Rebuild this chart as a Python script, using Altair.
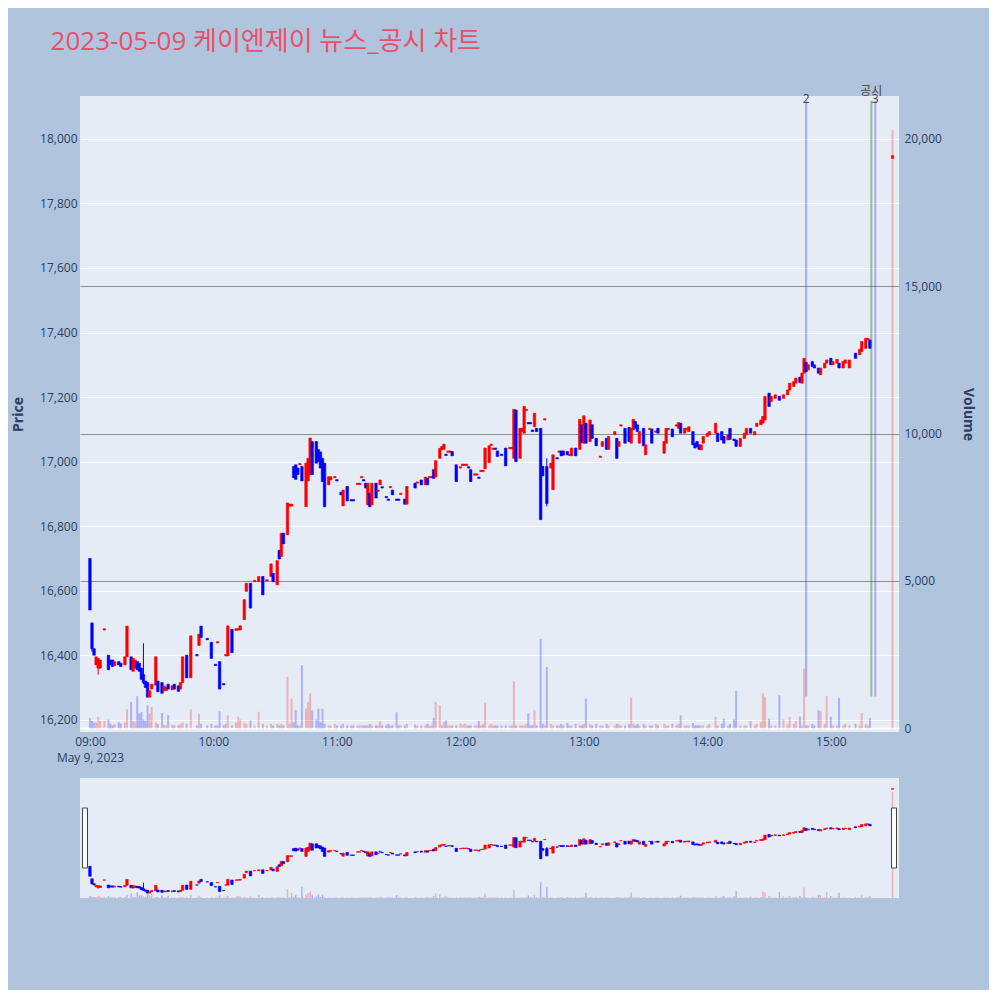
import altair as alt
import pandas as pd

TITLE = "2023-05-09 케이엔제이 뉴스_공시 차트"

# candle minutes after 09:00
minutes = [
    0, 1, 2, 3, 4, 5, 7, 9, 10, 11,
    12, 14, 15, 17, 18, 20, 21, 22, 23, 24,
    25, 26, 27, 28, 29, 30, 32, 33, 35, 36,
    37, 38, 40, 41, 43, 44, 45, 47, 49, 52,
    53, 54, 57, 59, 61, 62, 63, 65, 66, 67,
    69, 71, 72, 73, 75, 76, 78, 80, 82, 84,
    86, 88, 89, 91, 92, 93, 94, 96, 97, 98,
    99, 100, 101, 102, 103, 105, 106, 107, 108, 110,
    111, 112, 113, 114, 116, 117, 119, 120, 122, 123,
    125, 127, 128, 130, 131, 132, 133, 134, 135, 136,
    137, 139, 140, 141, 142, 144, 145, 146, 147, 149,
    150, 151, 153, 154, 158, 159, 161, 163, 164, 165,
    166, 167, 168, 170, 171, 172, 173, 174, 175, 176,
    178, 180, 181, 182, 183, 184, 185, 187, 188, 189,
    190, 191, 192, 194, 195, 196, 197, 198, 200, 202,
    204, 205, 206, 207, 209, 210, 211, 212, 213, 214,
    215, 216, 217, 219, 220, 221, 222, 224, 225, 227,
    228, 229, 230, 232, 233, 234, 236, 238, 239, 240,
    241, 243, 244, 246, 248, 249, 251, 252, 255, 256,
    257, 258, 260, 262, 263, 264, 265, 266, 267, 269,
    270, 272, 273, 275, 276, 279, 280, 281, 283, 285,
    286, 287, 289, 290, 291, 293, 294, 295, 296, 297,
    298, 300, 301, 304, 305, 307, 308, 310, 311, 313,
    314, 316, 318, 319, 321, 323, 324, 326, 327, 328,
    330, 331, 333, 335, 337, 339, 340, 342, 343, 345,
    346, 347, 348, 349, 351, 352, 354, 355, 357, 358,
    360, 361, 363, 364, 366, 367, 369, 372, 374, 375,
    377, 378, 379, 390,
]
opens = [
    16700, 16500, 16420, 16370, 16360, 16360, 16478, 16400, 16385, 16385,
    16368, 16380, 16375, 16370, 16395, 16395, 16350, 16360, 16380, 16375,
    16360, 16340, 16320, 16315, 16270, 16295, 16307, 16320, 16315, 16290,
    16290, 16310, 16293, 16310, 16305, 16295, 16315, 16400, 16330, 16402,
    16430, 16490, 16452, 16440, 16372, 16438, 16380, 16312, 16398, 16398,
    16480, 16477, 16478, 16478, 16510, 16598, 16623, 16628, 16628, 16644,
    16630, 16644, 16654, 16618, 16725, 16706, 16778, 16773, 16862, 16862,
    16985, 16990, 16980, 16990, 16985, 16860, 16940, 16960, 17062, 17062,
    17037, 17030, 17010, 16995, 16928, 16943, 16950, 16944, 16905, 16863,
    16923, 16882, 16882, 16929, 16929, 16950, 16944, 16933, 16866, 16902,
    16866, 16933, 16908, 16928, 16922, 16892, 16884, 16919, 16912, 16884,
    16884, 16898, 16884, 16868, 16933, 16933, 16943, 16928, 16948, 16950,
    16950, 16975, 16952, 17010, 17037, 17038, 17023, 17029, 17029, 17031,
    16990, 16980, 16988, 16988, 16988, 16984, 16975, 16958, 16958, 16952,
    16969, 16969, 16978, 16997, 17050, 17038, 17042, 17033, 17023, 17042,
    17040, 17040, 17010, 17160, 17010, 17093, 17088, 17158, 17121, 17121,
    17098, 17108, 17103, 17103, 16985, 17129, 16985, 16980, 16913, 17012,
    17029, 17033, 17033, 17031, 17019, 17018, 17042, 17038, 17114, 17057,
    17119, 17062, 17114, 17072, 17013, 17047, 17072, 17038, 17083, 17072,
    17047, 17110, 17103, 17106, 17057, 17098, 17124, 17114, 17057, 17103,
    17021, 17099, 17101, 17091, 17103, 17026, 17057, 17099, 17101, 17110,
    17103, 17119, 17088, 17099, 17093, 17093, 17057, 17062, 17052, 17036,
    17057, 17078, 17083, 17088, 17088, 17093, 17078, 17067, 17103, 17070,
    17067, 17047, 17072, 17083, 17103, 17083, 17109, 17114, 17119, 17129,
    17212, 17186, 17196, 17202, 17196, 17207, 17222, 17233, 17243, 17262,
    17243, 17274, 17307, 17284, 17310, 17300, 17290, 17269, 17290, 17305,
    17320, 17300, 17305, 17305, 17290, 17305, 17290, 17336, 17331, 17341,
    17351, 17378, 17377, 17940,
]
closes = [
    16540, 16420, 16400, 16395, 16390, 16385, 16482, 16355, 16370, 16365,
    16380, 16370, 16365, 16395, 16490, 16355, 16390, 16385, 16355, 16350,
    16325, 16315, 16300, 16270, 16290, 16310, 16395, 16287, 16282, 16305,
    16300, 16295, 16305, 16295, 16288, 16315, 16395, 16330, 16460, 16398,
    16465, 16455, 16448, 16390, 16368, 16442, 16295, 16308, 16402, 16491,
    16408, 16482, 16482, 16491, 16572, 16623, 16546, 16632, 16644, 16587,
    16634, 16683, 16628, 16693, 16698, 16778, 16745, 16872, 16868, 16868,
    16950, 16945, 16960, 16994, 16940, 16995, 17010, 17073, 16960, 16995,
    17000, 16980, 16938, 16860, 16953, 16953, 16954, 16940, 16897, 16912,
    16878, 16878, 16878, 16933, 16933, 16954, 16940, 16918, 16933, 16860,
    16933, 16887, 16912, 16943, 16918, 16888, 16880, 16923, 16897, 16880,
    16880, 16902, 16868, 16923, 16918, 16937, 16928, 16952, 16928, 16954,
    16954, 16948, 17003, 17041, 17047, 17054, 17019, 17033, 17033, 17018,
    16938, 16984, 16992, 16992, 16992, 16980, 16938, 16962, 16962, 16948,
    16973, 16973, 17042, 17049, 17054, 17042, 17038, 17016, 17019, 16987,
    17044, 17044, 17162, 17000, 17103, 17103, 17171, 17162, 17117, 17117,
    17093, 17150, 17093, 16820, 16956, 17133, 16870, 16995, 17021, 17008,
    17033, 17018, 17020, 17021, 17023, 17042, 17018, 17131, 17059, 17142,
    17057, 17129, 17072, 17049, 17017, 17062, 17038, 17078, 17093, 17010,
    17062, 17114, 17057, 17062, 17103, 17131, 17103, 17093, 17093, 17049,
    17052, 17103, 17057, 17095, 17088, 17062, 17103, 17103, 17077, 17114,
    17121, 17088, 17103, 17103, 17108, 17052, 17042, 17047, 17038, 17052,
    17078, 17088, 17093, 17119, 17062, 17067, 17057, 17083, 17069, 17065,
    17047, 17072, 17088, 17103, 17088, 17093, 17119, 17129, 17140, 17202,
    17171, 17202, 17207, 17190, 17207, 17222, 17243, 17248, 17259, 17245,
    17274, 17320, 17279, 17300, 17295, 17290, 17274, 17290, 17305, 17315,
    17300, 17310, 17317, 17290, 17310, 17315, 17315, 17320, 17348, 17372,
    17382, 17382, 17351, 17948,
]
volumes = [
    350, 250, 200, 200, 390, 250, 250, 300, 150, 100,
    150, 215, 150, 200, 640, 900, 240, 200, 1090, 500,
    550, 300, 250, 780, 500, 725, 200, 150, 520, 120,
    100, 440, 120, 100, 100, 150, 200, 150, 640, 100,
    480, 150, 100, 150, 100, 100, 580, 100, 150, 440,
    100, 200, 390, 300, 200, 150, 270, 100, 560, 150,
    100, 150, 100, 150, 100, 150, 100, 1745, 150, 1010,
    200, 620, 100, 100, 2140, 670, 900, 1180, 610, 300,
    670, 200, 670, 150, 100, 100, 150, 100, 100, 150,
    100, 100, 100, 100, 100, 100, 100, 100, 100, 150,
    100, 100, 100, 240, 100, 100, 150, 100, 100, 545,
    100, 100, 100, 150, 125, 100, 100, 100, 150, 100,
    100, 350, 900, 780, 100, 215, 270, 100, 100, 100,
    100, 160, 100, 160, 100, 100, 100, 100, 100, 240,
    100, 150, 875, 100, 150, 100, 100, 100, 100, 100,
    100, 100, 1600, 100, 100, 100, 100, 150, 510, 100,
    100, 610, 100, 3030, 150, 100, 2080, 150, 100, 100,
    100, 150, 100, 180, 100, 100, 150, 100, 100, 150,
    1010, 150, 100, 150, 100, 100, 150, 100, 100, 150,
    130, 100, 100, 150, 1040, 150, 100, 150, 100, 150,
    100, 100, 100, 150, 100, 150, 100, 100, 150, 100,
    150, 440, 100, 100, 100, 180, 100, 100, 100, 100,
    100, 100, 150, 390, 100, 150, 330, 100, 150, 300,
    1270, 100, 100, 100, 240, 100, 150, 200, 1180, 1070,
    330, 100, 100, 1120, 300, 150, 390, 150, 250, 400,
    100, 2030, 100, 100, 150, 100, 610, 590, 150, 1090,
    390, 100, 100, 1030, 100, 150, 100, 150, 100, 520,
    150, 100, 350, 20300,
]
# extra wick extremes (minute -> price)
wick_high = {26: 16437, 222: 17010}
wick_low = {1: 16410, 4: 16340, 26: 16310, 222: 16861}

# news / disclosure markers
event_minutes = [348, 379.7, 381.6]
event_kinds = ["news", "disclosure", "news"]
event_labels = ["2", "공시", "3"]
event_label_price = [18124, 18148, 18124]
event_span = [16272, 18118]

tick_minutes = [0, 60, 120, 180, 240, 300, 360]
tick_labels = ["09:00", "10:00", "11:00", "12:00", "13:00", "14:00", "15:00"]
date_label = "May 9, 2023"
price_ticks = [16200, 16400, 16600, 16800, 17000, 17200, 17400, 17600, 17800, 18000]
volume_ticks = [0, 5000, 10000, 15000, 20000]

assert len(minutes) == len(opens) == len(closes) == len(volumes)

rows = []
for m, o, c, v in zip(minutes, opens, closes, volumes):
    hi = max(o, c, wick_high.get(m, o))
    lo = min(o, c, wick_low.get(m, o))
    rows.append({"minute": m, "open": o, "close": c, "high": hi, "low": lo,
                 "volume": v, "dir": "up" if c >= o else "down"})
df = pd.DataFrame(rows)

events = pd.DataFrame({
    "minute": event_minutes, "kind": event_kinds, "label": event_labels,
    "label_price": event_label_price,
    "top": [event_span[1]] * len(event_minutes),
    "bottom": [event_span[0]] * len(event_minutes),
})

FONT = "Open Sans"
AXIS_COLOR = "#2a3f5f"
X_DOM = [-2.4, 390.7]
PRICE_DOM = [16162, 18133]
VOL_DOM = [-126, 21459]
W, H = 819, 636
SW, SH = 819, 120

color_scale = alt.Scale(domain=["up", "down"], range=["#FF0000", "#0000FF"])
event_scale = alt.Scale(domain=["news", "disclosure"],
                        range=["rgba(0,0,255,0.28)", "rgba(0,128,0,0.4)"])

label_expr = (f"datum.value == 0 ? ['{tick_labels[0]}', '{date_label}'] : "
              f"{tick_labels}[round(datum.value / 60)]")

x_main = alt.X("minute:Q",
               scale=alt.Scale(domain=X_DOM, nice=False, zero=False),
               axis=alt.Axis(values=tick_minutes, labelExpr=label_expr, grid=False,
                             domain=False, ticks=False, labelPadding=4, labelFontSize=12,
                             labelColor=AXIS_COLOR, labelFlush=False, labelOverlap=False,
                             labelLineHeight=16, labelFont=FONT, labelBaseline="top",
                             title=None))
x_plain = alt.X("minute:Q", scale=alt.Scale(domain=X_DOM, nice=False, zero=False), axis=None)

price_scale = alt.Scale(domain=PRICE_DOM, nice=False, zero=False)
vol_scale = alt.Scale(domain=VOL_DOM, nice=False, zero=False)

volume_layer = alt.Chart(df).mark_rule(strokeWidth=2, opacity=0.25).encode(
    x=x_main,
    y=alt.Y("volume:Q", scale=vol_scale,
            axis=alt.Axis(orient="right", values=volume_ticks, format=",d", grid=True,
                          gridColor={"condition": {"test": "datum.value === 0", "value": "#FFFFFF"},
                                     "value": "#8f8f8f"},
                          gridWidth={"condition": {"test": "datum.value === 0", "value": 2},
                                     "value": 1},
                          domain=False, ticks=False, labelPadding=5, labelFontSize=12,
                          labelColor=AXIS_COLOR, labelFont=FONT, title="Volume",
                          titleFontSize=14, titleFontWeight="bold", titleColor=AXIS_COLOR,
                          titleFont=FONT, titlePadding=19)),
    y2=alt.datum(0),
    color=alt.Color("dir:N", scale=color_scale, legend=None),
)

wick_layer = alt.Chart(df).mark_rule(strokeWidth=1).encode(
    x=x_main,
    y=alt.Y("high:Q", scale=price_scale,
            axis=alt.Axis(orient="left", values=price_ticks, format=",d", grid=True,
                          gridColor="#FFFFFF", gridWidth=1, domain=False, ticks=False,
                          labelPadding=3, labelFontSize=12, labelColor=AXIS_COLOR,
                          labelFont=FONT, title="Price", titleFontSize=14,
                          titleFontWeight="bold", titleColor=AXIS_COLOR, titleFont=FONT,
                          titlePadding=14)),
    y2="low:Q",
    color=alt.Color("dir:N", scale=color_scale, legend=None),
)
body_layer = alt.Chart(df).mark_bar(size=2.5, strokeWidth=1, strokeOpacity=0.6).encode(
    x=x_main,
    y=alt.Y("open:Q", scale=price_scale),
    y2="close:Q",
    color=alt.Color("dir:N", scale=color_scale, legend=None),
    stroke=alt.Color("dir:N", scale=color_scale, legend=None),
)
event_lines = alt.Chart(events).mark_rule(strokeWidth=2).encode(
    x=x_main,
    y=alt.Y("top:Q", scale=price_scale),
    y2="bottom:Q",
    color=alt.Color("kind:N", scale=event_scale, legend=None),
)
event_text = alt.Chart(events).mark_text(fontSize=12, font=FONT + ", Noto Sans CJK KR",
                                         color="#444444", baseline="middle").encode(
    x=x_main,
    y=alt.Y("label_price:Q", scale=price_scale),
    text="label:N",
)

main = alt.layer(
    volume_layer,
    alt.layer(wick_layer, body_layer, event_lines, event_text).resolve_scale(color="independent"),
).resolve_scale(y="independent").properties(width=W, height=H)

# ---- range slider ----
SL_PRICE_DOM = [16191, 18120]
SL_VOL_DOM = [0, 23000]
sl_price = alt.Scale(domain=SL_PRICE_DOM, nice=False, zero=False)
sl_vol = alt.Scale(domain=SL_VOL_DOM, nice=False, zero=False)

sl_volume = alt.Chart(df).mark_rule(strokeWidth=1.5, opacity=0.25).encode(
    x=x_plain,
    y=alt.Y("volume:Q", scale=sl_vol, axis=None),
    y2=alt.datum(0),
    color=alt.Color("dir:N", scale=color_scale, legend=None),
)
sl_wick = alt.Chart(df).mark_rule(strokeWidth=1).encode(
    x=x_plain,
    y=alt.Y("high:Q", scale=sl_price, axis=None),
    y2="low:Q",
    color=alt.Color("dir:N", scale=color_scale, legend=None),
)
sl_body = alt.Chart(df).mark_bar(size=2.5, strokeWidth=1, strokeOpacity=0.6).encode(
    x=x_plain,
    y=alt.Y("open:Q", scale=sl_price, axis=None),
    y2="close:Q",
    color=alt.Color("dir:N", scale=color_scale, legend=None),
    stroke=alt.Color("dir:N", scale=color_scale, legend=None),
)
handles = pd.DataFrame({"minute": X_DOM})
sl_handles = alt.Chart(handles).mark_bar(size=5, fill="#FFFFFF", stroke="#444444",
                                          strokeWidth=1).encode(
    x=x_plain,
    y=alt.value(30),
    y2=alt.value(90),
)

slider = alt.layer(
    sl_volume,
    alt.layer(sl_wick, sl_body),
    sl_handles,
).resolve_scale(y="independent").properties(width=SW, height=SH)

chart = alt.vconcat(main, slider, spacing=15).properties(
    title=alt.TitleParams(text=TITLE, anchor="start", frame="bounds", fontSize=26,
                          font=FONT + ", Noto Sans CJK KR", fontWeight="normal",
                          color="#E8506A", dx=39, offset=30),
    padding={"left": 3, "top": 21, "right": 14, "bottom": 91},
    background="#B0C4DE",
).configure(font=FONT).configure_view(fill="#E5ECF6", strokeWidth=0)

chart.save("out.html", embed_options={"renderer": "svg", "actions": False})
